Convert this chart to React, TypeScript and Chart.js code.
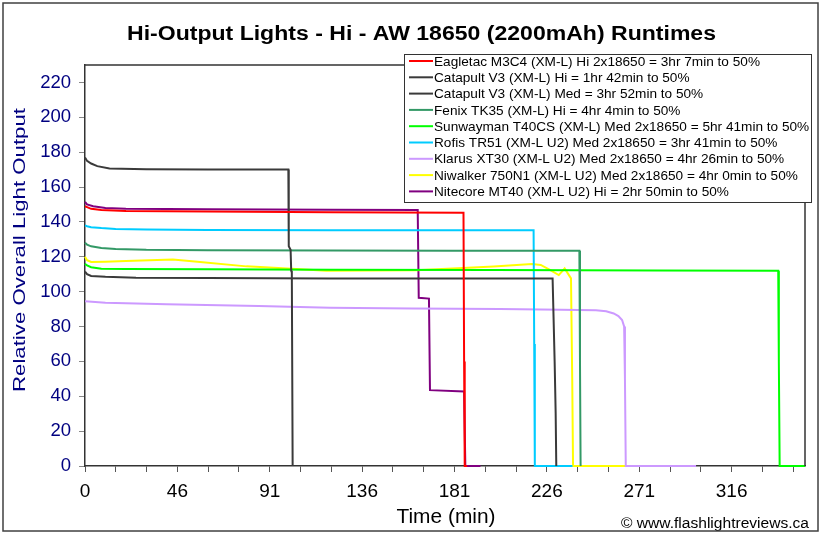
import React, { useEffect, useRef } from "react";
import { Chart, registerables } from "chart.js";

Chart.register(...registerables);

// ---------- data ----------
const seriesLabels = [
  "Eagletac M3C4 (XM-L) Hi 2x18650 = 3hr 7min to 50%",
  "Catapult V3 (XM-L) Hi = 1hr 42min to 50%",
  "Catapult V3 (XM-L) Med = 3hr 52min to 50%",
  "Fenix TK35 (XM-L) Hi = 4hr 4min to 50%",
  "Sunwayman T40CS (XM-L) Med 2x18650 = 5hr 41min to 50%",
  "Rofis TR51 (XM-L U2) Med 2x18650 = 3hr 41min to 50%",
  "Klarus XT30 (XM-L U2) Med 2x18650 = 4hr 26min to 50%",
  "Niwalker 750N1 (XM-L U2) Med 2x18650 = 4hr 0min to 50%",
  "Nitecore MT40 (XM-L U2) Hi = 2hr 50min to 50%",
];
const seriesColors = [
  "#FF0000",
  "#3A3A3A",
  "#3A3A3A",
  "#339966",
  "#00FF00",
  "#00CCFF",
  "#CC99FF",
  "#FFFF00",
  "#800080",
];

const eagletacT = [0, 1, 3, 8, 20, 60, 120, 185.2, 185.5, 185.8, 187];
const eagletacV = [149, 148.5, 147.5, 146.8, 146.2, 146, 145.6, 145.2, 60, 0, 0];

const catapultHiT = [0, 1, 3, 6, 12, 30, 60, 99.5, 99.7, 100.6, 100.9, 101.2, 101.6];
const catapultHiV = [177, 175, 173.5, 172, 170.6, 170.2, 170, 170, 126, 124, 112, 111, 0];

const catapultMedT = [0, 1, 3, 10, 25, 60, 120, 180, 228.8, 229.3, 229.8, 230.3, 230.6];
const catapultMedV = [111.5, 110, 109, 108.5, 108, 107.8, 107.6, 107.5, 107.5, 83.7, 59.8, 30.2, 0];

const fenixT = [0, 1, 3, 8, 15, 30, 60, 120, 180, 241.9, 242.2, 242.5];
const fenixV = [128, 127, 126, 125, 124.5, 124, 123.8, 123.6, 123.5, 123.4, 60, 0];

const sunwaymanT = [0, 1, 3, 8, 20, 60, 120, 200, 280, 339.2, 339.5, 339.9, 353];
const sunwaymanV = [116, 115, 114, 113.2, 113, 112.8, 112.6, 112.4, 112.2, 112, 60, 0, 0];

const rofisT = [0, 1, 3, 8, 15, 30, 60, 120, 180, 219.5, 219.8, 220.1, 238.5];
const rofisV = [138, 137.5, 137, 136.5, 136, 135.6, 135.4, 135.2, 135.2, 135.2, 70, 0, 0];

const klarusT = [0, 10, 40, 85, 120, 160, 203, 233, 250, 255, 258.7, 261, 262.8, 263.8, 264.2, 264.6, 299];
const klarusV = [94.5, 93.6, 92.8, 91.7, 90.8, 90.3, 90, 89.6, 89.4, 88.8, 87.5, 86, 83.7, 80, 50, 0, 0];

const niwalkerT = [0, 1, 3, 10, 20, 43, 55, 79, 99, 118, 162, 200, 218.7, 223, 227.7, 231.8, 234.7, 237.8, 238.4, 238.8, 277];
const niwalkerV = [120, 118, 117, 117.2, 117.6, 118.4, 117.1, 114.5, 113.3, 112, 112.3, 114.4, 115.8, 115.3, 112.3, 109.5, 113.3, 107.6, 50, 0, 0];

const nitecoreT = [0, 1, 4, 10, 20, 60, 120, 162.8, 163.3, 168.3, 168.8, 185.5, 186.1, 193.5];
const nitecoreV = [151.5, 150, 149, 148, 147.5, 147.2, 147, 146.8, 96.5, 96, 43.5, 42.8, 0, 0];

const seriesT = [eagletacT, catapultHiT, catapultMedT, fenixT, sunwaymanT, rofisT, klarusT, niwalkerT, nitecoreT];
const seriesV = [eagletacV, catapultHiV, catapultMedV, fenixV, sunwaymanV, rofisV, klarusV, niwalkerV, nitecoreV];

const yTickValues = [0, 20, 40, 60, 80, 100, 120, 140, 160, 180, 200, 220];
const xTickLabels = ["0", "46", "91", "136", "181", "226", "271", "316"];
const xLabelStep = 45.2;
const xMinorPerLabel = 3;
const xMinorCount = 24;
const X_MAX = 352.3;
const Y_MAX = 230;

const titleText = "Hi-Output Lights - Hi - AW 18650 (2200mAh) Runtimes";
const yTitleText = "Relative Overall Light Output";
const xTitleText = "Time (min)";
const creditText = "\u00A9 www.flashlightreviews.ca";

const FONT = "'Liberation Sans', Arial, sans-serif";

function drawFitText(
  ctx: CanvasRenderingContext2D,
  text: string,
  font: string,
  color: string,
  x: number,
  y: number,
  targetWidth: number,
  align: "left" | "center",
  rotate = 0
) {
  ctx.save();
  ctx.font = font;
  ctx.fillStyle = color;
  ctx.textBaseline = "alphabetic";
  ctx.textAlign = "left";
  const w = ctx.measureText(text).width;
  const sx = targetWidth / w;
  ctx.translate(x, y);
  if (rotate) ctx.rotate(rotate);
  ctx.scale(sx, 1);
  const startX = align === "center" ? -w / 2 : 0;
  ctx.fillText(text, startX, 0);
  ctx.restore();
}

const decorPlugin = {
  id: "decor",
  beforeDraw(chart: any) {
    const ctx = chart.ctx as CanvasRenderingContext2D;
    ctx.save();
    ctx.fillStyle = "#FFFFFF";
    ctx.fillRect(0, 0, chart.width, chart.height);
    ctx.restore();
  },
  afterDraw(chart: any) {
    const ctx = chart.ctx as CanvasRenderingContext2D;
    const a = chart.chartArea;
    // plot box top & right
    ctx.save();
    ctx.strokeStyle = "#333333";
    ctx.lineWidth = 1.5;
    ctx.beginPath();
    ctx.moveTo(a.left, a.top);
    ctx.lineTo(a.right, a.top);
    ctx.lineTo(a.right, a.bottom);
    ctx.stroke();
    ctx.restore();

    // legend box
    const lx = 404, ly = 54, lw = 407, lh = 148;
    ctx.save();
    ctx.fillStyle = "#FFFFFF";
    ctx.fillRect(lx, ly, lw, lh);
    ctx.strokeStyle = "#333333";
    ctx.lineWidth = 1;
    ctx.strokeRect(lx + 0.5, ly + 0.5, lw, lh);
    const lfont = `13px ${FONT}`;
    ctx.font = lfont;
    const firstW = ctx.measureText(seriesLabels[0]).width;
    const sx = 326 / firstW;
    seriesLabels.forEach((lab, i) => {
      const cy = 61 + i * 16.3;
      ctx.strokeStyle = seriesColors[i];
      ctx.lineWidth = 2;
      ctx.beginPath();
      ctx.moveTo(409, cy);
      ctx.lineTo(433, cy);
      ctx.stroke();
      ctx.save();
      ctx.font = lfont;
      ctx.fillStyle = "#000000";
      ctx.textBaseline = "alphabetic";
      ctx.translate(434, cy + 4.6);
      ctx.scale(sx, 1);
      ctx.fillText(lab, 0, 0);
      ctx.restore();
    });
    ctx.restore();

    // title
    drawFitText(ctx, titleText, `bold 19.5px ${FONT}`, "#000000", 421.5, 40, 589, "center");
    // y title
    drawFitText(ctx, yTitleText, `17px ${FONT}`, "#000080", 25, 250, 284, "center", -Math.PI / 2);
    // x title
    drawFitText(ctx, xTitleText, `20px ${FONT}`, "#000000", 446, 523, 99, "center");
    // credit
    drawFitText(ctx, creditText, `15.5px ${FONT}`, "#000000", 621, 527.5, 188, "left");

    // outer frame
    ctx.save();
    ctx.strokeStyle = "#404040";
    ctx.lineWidth = 1.5;
    ctx.strokeRect(3, 3, 815, 528);
    ctx.restore();
  },
};

export default function App() {
  const ref = useRef<HTMLCanvasElement | null>(null);
  useEffect(() => {
    if (!ref.current) return;
    const datasets = seriesLabels.map((label, i) => ({
      label,
      data: seriesT[i].map((t, j) => ({ x: t, y: seriesV[i][j] })),
      borderColor: seriesColors[i],
      backgroundColor: seriesColors[i],
      borderWidth: 2,
      pointRadius: 0,
      tension: 0,
      fill: false,
      clip: { left: 1, right: 0, top: 1, bottom: 2 },
    }));
    const xTickPos: number[] = [];
    for (let k = 0; k < xMinorCount; k++) xTickPos.push((k * xLabelStep) / xMinorPerLabel);

    const chart = new Chart(ref.current, {
      type: "line",
      data: { datasets },
      options: {
        animation: false,
        responsive: false,
        maintainAspectRatio: false,
        events: [],
        layout: { padding: { left: 0, right: 17, top: 65, bottom: 0 } },
        plugins: {
          legend: { display: false },
          title: { display: false },
          tooltip: { enabled: false },
        },
        scales: {
          x: {
            type: "linear",
            min: 0,
            max: X_MAX,
            afterBuildTicks: (s: any) => {
              s.ticks = xTickPos.map((v) => ({ value: v }));
            },
            afterFit: (s: any) => {
              s.height = 69;
            },
            ticks: {
              autoSkip: false,
              maxRotation: 0,
              padding: 8,
              color: "#000000",
              font: { family: FONT, size: 19 },
              callback: (_v: any, i: number) =>
                i % xMinorPerLabel === 0 ? xTickLabels[i / xMinorPerLabel] ?? "" : "",
            },
            grid: { drawOnChartArea: false, drawTicks: true, tickLength: 6, color: "#555555" },
            border: { color: "#333333", width: 1.5 },
          },
          y: {
            type: "linear",
            min: 0,
            max: Y_MAX,
            afterBuildTicks: (s: any) => {
              s.ticks = yTickValues.map((v) => ({ value: v }));
            },
            afterFit: (s: any) => {
              s.width = 85;
            },
            ticks: {
              padding: 8,
              color: "#000080",
              font: { family: FONT, size: 18.5 },
            },
            grid: { drawOnChartArea: false, drawTicks: true, tickLength: 6, color: "#888888" },
            border: { color: "#333333", width: 1.5 },
          },
        },
      },
      plugins: [decorPlugin],
    } as any);
    return () => chart.destroy();
  }, []);

  return (
    <div style={{ position: "absolute", left: 0, top: 0, width: 822, height: 535 }}>
      <canvas ref={ref} width={822} height={535} style={{ width: 822, height: 535, display: "block" }} />
    </div>
  );
}
